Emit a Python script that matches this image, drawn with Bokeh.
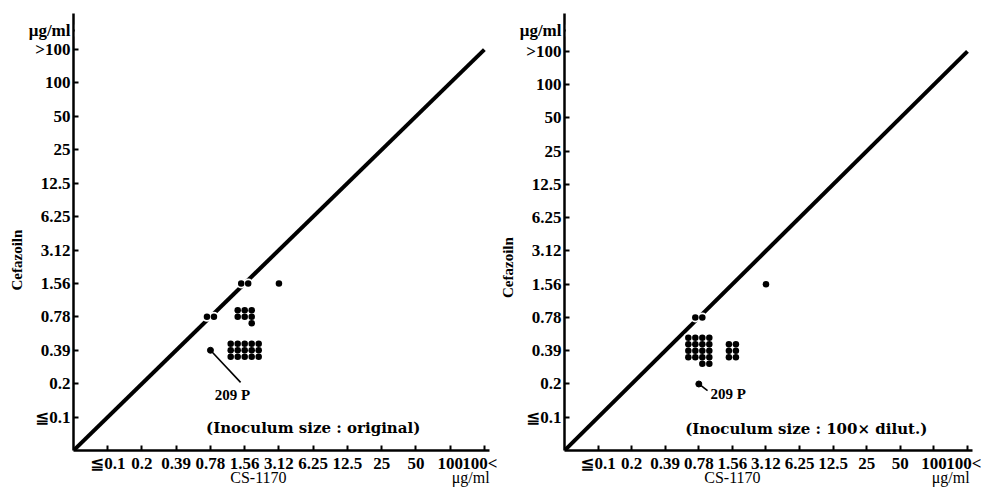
import math
from bokeh.plotting import figure
from bokeh.layouts import row
from bokeh.models import FixedTicker, Label, LinearAxis, BoxAnnotation
from bokeh.embed import file_html
from bokeh.resources import INLINE

# ---- data ----
x_labels = ["≦0.1", "0.2", "0.39", "0.78", "1.56", "3.12", "6.25", "12.5", "25", "50", "100", "100<"]
y_labels = ["≦0.1", "0.2", "0.39", "0.78", "1.56", "3.12", "6.25", "12.5", "25", "50", "100", ">100"]

# left panel: inoculum size original  (CS-1170 MIC, Cefazolin MIC, number of strains)
left_x = ["0.78", "1.56", "3.12", "1.56", "1.56"]
left_y = ["0.78", "1.56", "1.56", "0.78", "0.39"]
left_n = [2, 2, 1, 7, 15]
left_209p = ("0.78", "0.39")

# right panel: inoculum size 100x dilut.
right_x = ["0.78", "3.12", "0.78", "1.56"]
right_y = ["0.78", "1.56", "0.39", "0.39"]
right_n = [2, 1, 18, 6]
right_209p = ("0.78", "0.2")

COLS = {1: 1, 2: 2, 6: 2, 7: 3, 15: 5, 18: 4}
SERIF = "Liberation Serif, DejaVu Serif, DejaVu Sans"


def xi(lab):
    return x_labels.index(lab) + 1


def yi(lab):
    return y_labels.index(lab) + 1


def cluster(cx, cy, n, dx, dy):
    cols = COLS.get(n, 4)
    rows = math.ceil(n / cols)
    xs, ys = [], []
    k = 0
    for r in range(rows):
        cnt = min(cols, n - k)
        start = cols - cnt
        for c in range(start, start + cnt):
            xs.append(cx + (c - (cols - 1) / 2) * dx)
            ys.append(cy + ((rows - 1) / 2 - r) * dy)
        k += cnt
    return xs, ys


def text_axis(ax, size, standoff, bold=True):
    ax.axis_line_color = None
    ax.major_tick_line_color = None
    ax.minor_tick_line_color = None
    ax.major_tick_in = 0
    ax.major_tick_out = 0
    ax.major_label_text_font = SERIF
    ax.major_label_text_font_style = "bold" if bold else "normal"
    ax.major_label_text_font_size = size
    ax.major_label_text_color = "black"
    ax.major_label_standoff = standoff


def panel(fw, fh, xend, yend, bl, bt, br, bb, px, py, pn, p209, note,
          lead_end, lead_lab, lab_align, ylab_y, xlab_x, unit_x, top_unit_y):
    p = figure(frame_width=fw, frame_height=fh, x_range=(0, xend), y_range=(0, yend),
               output_backend="svg", toolbar_location=None,
               min_border_left=bl, min_border_top=bt, min_border_right=br, min_border_bottom=bb)
    p.grid.visible = False
    p.outline_line_color = None
    xs_scale = fw / xend
    ys_scale = fh / yend

    yt = list(range(1, len(y_labels) + 1)) + [top_unit_y]
    p.xaxis.ticker = FixedTicker(ticks=list(range(1, len(x_labels) + 1)))
    p.xaxis.major_label_overrides = {i + 1: l for i, l in enumerate(x_labels)}
    p.yaxis.ticker = FixedTicker(ticks=yt)
    ov = {i + 1: l for i, l in enumerate(y_labels)}
    ov[top_unit_y] = "μg/ml"
    p.yaxis.major_label_overrides = ov
    for ax in (p.xaxis, p.yaxis):
        ax.axis_line_width = 2.5
        ax.axis_line_color = "black"
        ax.major_tick_in = 5
        ax.major_tick_out = 0
        ax.major_tick_line_width = 2
        ax.major_tick_line_color = "black"
        ax.minor_tick_line_color = None
        ax.major_label_text_font = SERIF
        ax.major_label_text_font_style = "bold"
        ax.major_label_text_font_size = "17px"
        ax.major_label_text_color = "black"
        ax.major_label_standoff = 3
    # hide tick mark belonging to the unit label
    p.add_layout(BoxAnnotation(left=1.4 / xs_scale, right=8 / xs_scale,
                               bottom=top_unit_y - 6 / ys_scale, top=top_unit_y + 6 / ys_scale,
                               fill_color="white", fill_alpha=1, line_color=None, level="annotation"))

    # extra text-only axes: y title and x title / unit
    ya = LinearAxis(ticker=FixedTicker(ticks=[ylab_y]), major_label_overrides={ylab_y: "Cefazoiln"},
                    major_label_orientation="vertical")
    text_axis(ya, "15px", 0)
    p.add_layout(ya, "left")
    xa = LinearAxis(ticker=FixedTicker(ticks=[xlab_x, unit_x]),
                    major_label_overrides={xlab_x: "CS-1170", unit_x: "μg/ml"})
    text_axis(xa, "16px", -7, bold=False)
    p.add_layout(xa, "below")

    # diagonal
    p.line([0, len(x_labels)], [0, len(y_labels)], line_width=4, line_color="black")

    dx = 7.0 / xs_scale
    dy = 6.5 / ys_scale
    allx, ally = [], []
    for a, b, n in zip(px, py, pn):
        xs, ys = cluster(xi(a), yi(b), n, dx, dy)
        allx += xs
        ally += ys
    sx, sy = xi(p209[0]), yi(p209[1])
    p.scatter(allx + [sx], ally + [sy], size=10, color="white", line_color=None)
    p.line([sx, lead_end[0]], [sy, lead_end[1]], line_width=1.6, line_color="black")
    p.scatter(allx, ally, size=6.5, color="black", line_color=None)
    p.scatter([sx], [sy], size=6, fill_color="black", line_color="black")

    p.add_layout(Label(x=lead_lab[0], y=lead_lab[1], text="209 P", text_align=lab_align,
                       text_baseline="middle", text_font=SERIF, text_font_size="15px",
                       text_font_style="bold", text_color="black"))
    p.add_layout(Label(x=note[0], y=note[1], text=note[2], text_align="center",
                       text_baseline="middle", text_font="DejaVu Serif", text_font_style="bold",
                       text_font_size="15px", text_color="black"))
    return p


p1 = panel(416, 437, 12.15, 13.08, 73, 13, 8, 40, left_x, left_y, left_n, left_209p,
           (7.0, 0.66, "(Inoculum size : original)"),
           (4.88, 2.04), (4.64, 1.65), "center",
           5.7, 5.4, 11.6, 12.57)
p2 = panel(408, 437, 12.15, 13.14, 67, 13, 9, 40, right_x, right_y, right_n, right_209p,
           (7.2, 0.66, "(Inoculum size : 100× dilut.)"),
           (4.26, 1.8), (4.35, 1.71), "left",
           5.5, 5.0, 11.5, 12.63)

layout = row(p1, p2)
open("out.html", "w").write(file_html(layout, INLINE))
